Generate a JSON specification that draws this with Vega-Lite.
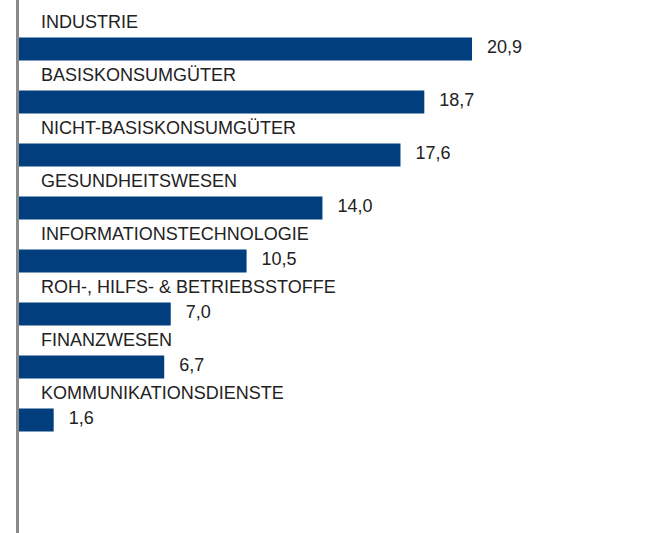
{
  "$schema": "https://vega.github.io/schema/vega-lite/v6.json",
  "width": 661,
  "height": 533,
  "autosize": "none",
  "padding": 0,
  "background": "white",
  "config": {"view": {"stroke": null}, "font": "Liberation Sans"},
  "data": {"values": [
    {"sector": "INDUSTRIE", "value": 20.9, "label": "20,9"},
    {"sector": "BASISKONSUMGÜTER", "value": 18.7, "label": "18,7"},
    {"sector": "NICHT-BASISKONSUMGÜTER", "value": 17.6, "label": "17,6"},
    {"sector": "GESUNDHEITSWESEN", "value": 14.0, "label": "14,0"},
    {"sector": "INFORMATIONSTECHNOLOGIE", "value": 10.5, "label": "10,5"},
    {"sector": "ROH-, HILFS- & BETRIEBSSTOFFE", "value": 7.0, "label": "7,0"},
    {"sector": "FINANZWESEN", "value": 6.7, "label": "6,7"},
    {"sector": "KOMMUNIKATIONSDIENSTE", "value": 1.6, "label": "1,6"}
  ]},
  "encoding": {
    "y": {"field": "sector", "type": "nominal", "sort": null, "axis": null,
      "scale": {"range": [22.5, 446.5], "paddingInner": 0.566, "paddingOuter": 0.283}}
  },
  "layer": [
    {
      "mark": {"type": "bar", "color": "#003e7e"},
      "encoding": {
        "x": {"field": "value", "type": "quantitative", "axis": null,
          "scale": {"domain": [0, 20.9], "range": [19, 472], "nice": false, "zero": true}}
      }
    },
    {
      "mark": {"type": "text", "align": "left", "baseline": "alphabetic", "dx": 15, "dy": 4, "fontSize": 18, "color": "#222222"},
      "encoding": {
        "x": {"field": "value", "type": "quantitative"},
        "text": {"field": "label"}
      }
    },
    {
      "mark": {"type": "text", "align": "left", "baseline": "alphabetic", "dx": 22, "dy": -21, "fontSize": 18, "color": "#222222"},
      "encoding": {
        "x": {"datum": 0},
        "text": {"field": "sector"}
      }
    },
    {
      "mark": {"type": "rule", "color": "#8a8a8a", "strokeWidth": 2},
      "encoding": {"x": {"datum": -0.07}, "y": null}
    }
  ]
}
